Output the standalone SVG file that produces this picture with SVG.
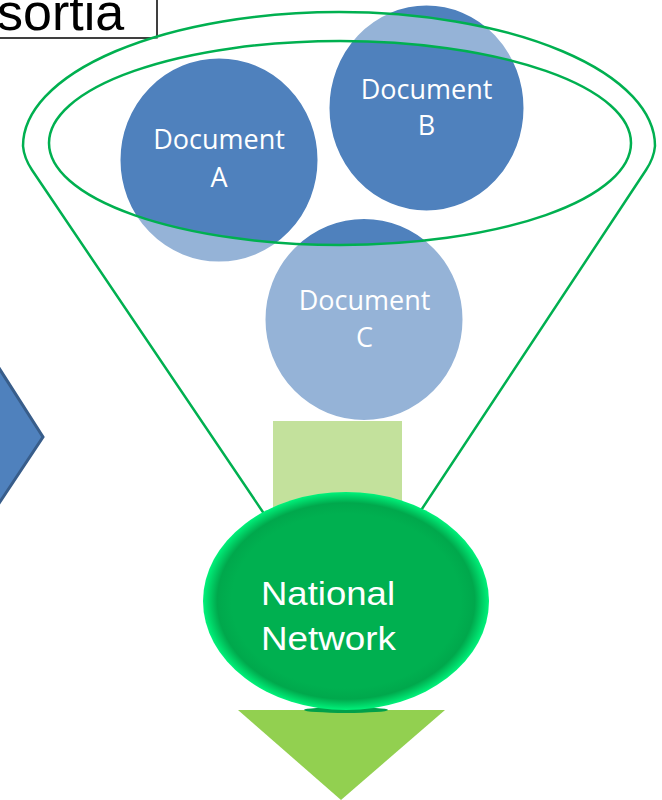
<svg xmlns="http://www.w3.org/2000/svg" width="662" height="800" viewBox="0 0 662 800">
  <defs>
    <style>
      .doc { fill: #4F81BD; stroke: #FFFFFF; stroke-width: 3; }
      .doctext { font-family: "Open Sans", "Noto Sans", sans-serif; font-size: 27px; fill: #FFFFFF; text-anchor: middle; }
      .funnel-line { fill: none; stroke: #00B050; stroke-width: 2.5; }
      .nntext { font-family: "Liberation Sans", Arial, sans-serif; font-size: 34px; fill: #FFFFFF; }
    </style>
    <radialGradient id="nnGrad" cx="0.5" cy="0.5" r="0.5">
      <stop offset="0" stop-color="#00B050"/>
      <stop offset="0.8" stop-color="#00B050"/>
      <stop offset="0.9" stop-color="#00A84C"/>
      <stop offset="1" stop-color="#00F27A"/>
    </radialGradient>
  </defs>
  <rect x="0" y="0" width="662" height="800" fill="#FFFFFF"/>

  <!-- Consortia box (cut off at top) -->
  <g id="node-consortia">
    <rect x="-5" y="-20" width="162" height="58" fill="#FFFFFF" stroke="#000000" stroke-width="1.5"/>
    <text x="-3" y="30" font-family="Liberation Sans, Arial, sans-serif" font-size="52" fill="#000000">sortia</text>
  </g>

  <!-- Left arrow (chevron) -->
  <g id="node-left-arrow">
    <polygon points="-10,354 43,437 -10,517" fill="#4F81BD" stroke="#385D8A" stroke-width="3"/>
  </g>

  <!-- Documents -->
  <g id="node-doc-a">
    <ellipse class="doc" cx="219" cy="160" rx="100" ry="103"/>
  </g>
  <g id="node-doc-b">
    <ellipse class="doc" cx="426.5" cy="108" rx="98.5" ry="104"/>
  </g>
  <g id="node-doc-c">
    <ellipse class="doc" cx="364" cy="319.5" rx="100" ry="102"/>
  </g>

  <!-- Funnel body translucent overlay -->
  <g id="funnel">
    <path fill="#FFFFFF" fill-opacity="0.4" fill-rule="evenodd"
      d="M 23,146 A 316,134 0 0 1 655,146 Q 654,158 646,170 L 420,510 L 262,512 L 32,170 Q 24,158 23,146 Z
         M 49,143 A 291,102 0 1 0 631,143 A 291,102 0 1 0 49,143 Z"/>
    <path class="funnel-line" d="M 275,530 L 32,170 Q 24,158 23,146 A 316,134 0 0 1 655,146 Q 654,158 646,170 L 408,530"/>
    <ellipse class="funnel-line" cx="340" cy="143" rx="291" ry="102"/>
  </g>

  <!-- Document labels -->
  <g id="labels">
    <text class="doctext" x="219" y="149">Document</text>
    <text class="doctext" x="219" y="187">A</text>
    <text class="doctext" x="426.5" y="99">Document</text>
    <text class="doctext" x="426.5" y="135">B</text>
    <text class="doctext" x="364.5" y="310">Document</text>
    <text class="doctext" x="364.5" y="347">C</text>
  </g>

  <!-- Connectors: bar into national network and down arrow -->
  <g id="connectors">
    <rect x="273" y="421" width="129" height="140" fill="#C3E19C"/>
    <polygon points="238,710 445,710 341,800" fill="#92D050"/>
  </g>

  <!-- National Network -->
  <g id="node-national">
    <ellipse cx="346" cy="710" rx="42" ry="3" fill="#00A04A"/>
    <ellipse cx="346" cy="601" rx="143" ry="109" fill="url(#nnGrad)"/>
    <text class="nntext" x="261" y="605" textLength="134" lengthAdjust="spacingAndGlyphs">National</text>
    <text class="nntext" x="261" y="650" textLength="135" lengthAdjust="spacingAndGlyphs">Network</text>
  </g>
</svg>
